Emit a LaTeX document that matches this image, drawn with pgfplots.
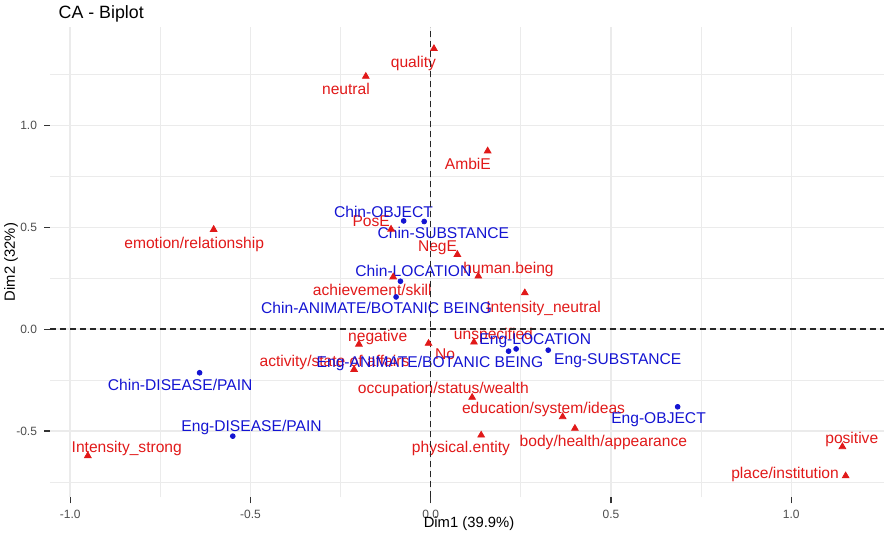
\documentclass[border=0pt]{standalone}
\usepackage{fontspec}
\setmainfont{Liberation Sans}
\usepackage{pgfplots}
\pgfplotsset{compat=1.18}
\definecolor{cablue}{RGB}{20,20,210}
\definecolor{cared}{RGB}{225,25,25}
\definecolor{gridc}{RGB}{235,235,235}
\definecolor{tickc}{RGB}{77,77,77}
\tikzset{lab/.style={font=\fontsize{7.8}{9}\selectfont, inner sep=0pt, text height=0.6em, text depth=0pt, anchor=center}}
\begin{document}
\begin{tikzpicture}
\begin{axis}[
  at={(25pt,19.35pt)}, anchor=south west,
  scale only axis, width=416.75pt, height=235pt,
  xmin=-1.056, xmax=1.256, ymin=-0.825, ymax=1.481,
  xtick={-1,-0.5,0,0.5,1}, xticklabels={-1.0,-0.5,0.0,0.5,1.0},
  ytick={-0.5,0,0.5,1}, yticklabels={-0.5,0.0,0.5,1.0},
  minor xtick={-0.75,-0.25,0.25,0.75},
  minor ytick={-0.75,-0.25,0.25,0.75,1.25},
  grid=both,
  major grid style={draw=gridc, line width=0.7pt},
  minor grid style={draw=gridc, line width=0.4pt},
  axis line style={draw=none},
  tick align=outside, xtick pos=bottom, ytick pos=left,
  major tick length=3pt, minor tick length=0pt,
  tick style={draw=black!80, line width=0.6pt},
  ticklabel style={font=\fontsize{6}{7}\selectfont, text=tickc},
  /pgf/number format/assume math mode=true,
  clip=false,
]
% row points (blue)
\addplot[only marks, mark=*, mark size=1.2pt, draw=cablue, fill=cablue, mark options={draw=cablue, fill=cablue}] table {
x y
-0.075 0.531
-0.018 0.528
-0.084 0.235
-0.096 0.158
0.216 -0.108
0.237 -0.097
0.326 -0.103
-0.641 -0.214
-0.549 -0.525
0.685 -0.381
};
% column points (red)
\addplot[only marks, mark=triangle*, mark size=1.9pt, draw=cared, fill=cared, mark options={draw=cared, fill=cared}] table {
x y
0.009 1.376
-0.180 1.240
0.158 0.874
-0.602 0.489
-0.110 0.490
0.074 0.366
0.132 0.260
-0.104 0.256
0.261 0.178
-0.199 -0.074
-0.006 -0.070
0.120 -0.064
-0.2125 -0.198
0.115 -0.335
0.366 -0.430
0.400 -0.487
0.140 -0.520
1.142 -0.577
1.151 -0.720
-0.951 -0.621
};
% column labels
\node[lab, text=cared] at (axis cs:-0.048,1.314) {quality};
\node[lab, text=cared] at (axis cs:-0.235,1.181) {neutral};
\node[lab, text=cared] at (axis cs:0.103,0.812) {AmbiE};
\node[lab, text=cared] at (axis cs:-0.656,0.425) {emotion/relationship};
\node[lab, text=cared] at (axis cs:-0.165,0.534) {PosE};
\node[lab, text=cared] at (axis cs:0.019,0.412) {NegE};
\node[lab, text=cared] at (axis cs:0.216,0.302) {human.being};
\node[lab, text=cared] at (axis cs:-0.162,0.196) {achievement/skill};
\node[lab, text=cared] at (axis cs:0.313,0.113) {Intensity\_neutral};
\node[lab, text=cared] at (axis cs:-0.147,-0.029) {negative};
\node[lab, text=cared] at (axis cs:0.174,-0.021) {unspecified};
\node[lab, text=cared] at (axis cs:0.040,-0.119) {No};
\node[lab, text=cared] at (axis cs:-0.267,-0.152) {activity/state of affairs};
\node[lab, text=cared] at (axis cs:0.035,-0.288) {occupation/status/wealth};
\node[lab, text=cared] at (axis cs:0.313,-0.384) {education/system/ideas};
\node[lab, text=cared] at (axis cs:-0.843,-0.577) {Intensity\_strong};
\node[lab, text=cared] at (axis cs:0.084,-0.577) {physical.entity};
\node[lab, text=cared] at (axis cs:0.479,-0.548) {body/health/appearance};
\node[lab, text=cared] at (axis cs:1.168,-0.531) {positive};
\node[lab, text=cared] at (axis cs:0.983,-0.701) {place/institution};
% row labels
\node[lab, text=cablue] at (axis cs:-0.131,0.578) {Chin-OBJECT};
\node[lab, text=cablue] at (axis cs:0.035,0.472) {Chin-SUBSTANCE};
\node[lab, text=cablue] at (axis cs:-0.048,0.286) {Chin-LOCATION};
\node[lab, text=cablue] at (axis cs:-0.150,0.104) {Chin-ANIMATE/BOTANIC BEING};
\node[lab, text=cablue] at (axis cs:0.290,-0.046) {Eng-LOCATION};
\node[lab, text=cablue] at (axis cs:-0.002,-0.160) {Eng-ANIMATE/BOTANIC BEING};
\node[lab, text=cablue] at (axis cs:0.519,-0.144) {Eng-SUBSTANCE};
\node[lab, text=cablue] at (axis cs:-0.695,-0.271) {Chin-DISEASE/PAIN};
\node[lab, text=cablue] at (axis cs:0.632,-0.435) {Eng-OBJECT};
\node[lab, text=cablue] at (axis cs:-0.497,-0.475) {Eng-DISEASE/PAIN};
% reference lines
\addplot[black!85, line width=0.75pt, dash pattern=on 3pt off 2pt] coordinates {(-1.056,0) (1.256,0)};
\addplot[black!85, line width=0.75pt, dash pattern=on 3pt off 2pt] coordinates {(0,-0.825) (0,1.481)};
\end{axis}
\node[anchor=base west, font=\fontsize{8.9}{11}\selectfont] at (25.8pt,258.8pt) {CA - Biplot};
\node[font=\fontsize{7.4}{9}\selectfont] at (234.5pt,6.25pt) {Dim1 (39.9\%)};
\node[rotate=90, font=\fontsize{7.4}{9}\selectfont] at (5.5pt,137pt) {Dim2 (32\%)};
\pgfresetboundingbox
\path[use as bounding box] (0,0) rectangle (442pt,268pt);
\end{tikzpicture}
\end{document}
